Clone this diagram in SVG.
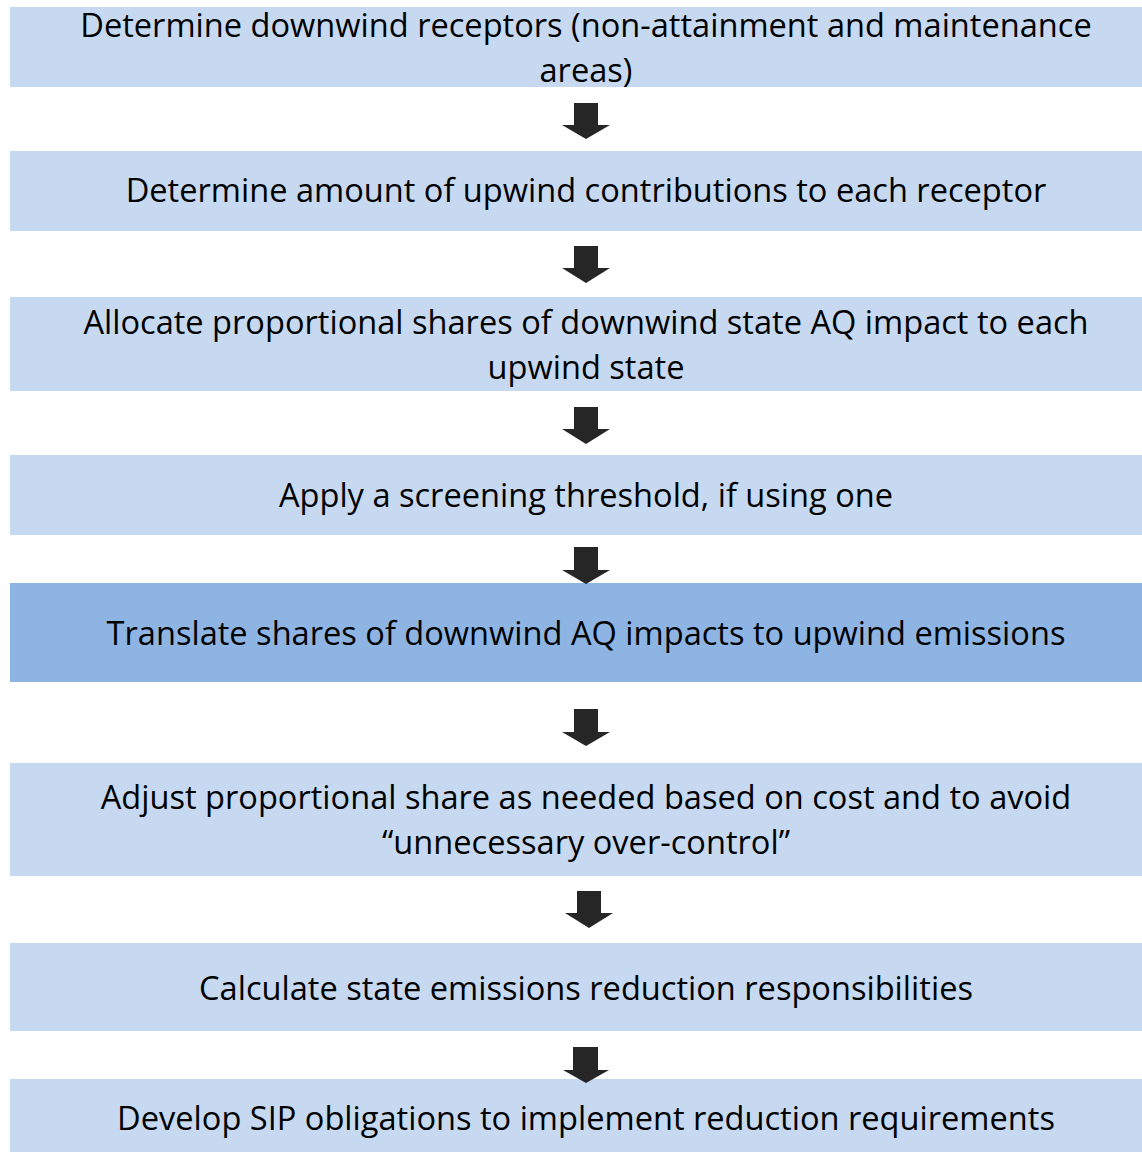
<svg xmlns="http://www.w3.org/2000/svg" width="1142" height="1152" viewBox="0 0 1142 1152">
<style>
.box{fill:#C6D9F1}
.hl{fill:#8EB4E3}
.t{font-family:"Open Sans","Noto Sans",sans-serif;font-size:32.6px;fill:#000;text-anchor:middle}
.arr{fill:#262626}
</style>
<rect width="1142" height="1152" fill="#fff"/>
<g id="n1"><rect class="box" x="10" y="7" width="1132" height="80"/>
<text class="t" x="586" y="37">Determine downwind receptors (non-attainment and maintenance</text>
<text class="t" x="586" y="82">areas)</text></g>
<g id="n2"><rect class="box" x="10" y="151" width="1132" height="80"/>
<text class="t" x="586" y="202">Determine amount of upwind contributions to each receptor</text></g>
<g id="n3"><rect class="box" x="10" y="297" width="1132" height="94"/>
<text class="t" x="586" y="334">Allocate proportional shares of downwind state AQ impact to each</text>
<text class="t" x="586" y="379">upwind state</text></g>
<g id="n4"><rect class="box" x="10" y="455" width="1132" height="80"/>
<text class="t" x="586" y="507">Apply a screening threshold, if using one</text></g>
<g id="n5"><rect class="hl" x="10" y="583" width="1132" height="99"/>
<text class="t" x="586" y="645">Translate shares of downwind AQ impacts to upwind emissions</text></g>
<g id="n6"><rect class="box" x="10" y="763" width="1132" height="113"/>
<text class="t" x="586" y="809">Adjust proportional share as needed based on cost and to avoid</text>
<text class="t" x="586" y="854">“unnecessary over-control”</text></g>
<g id="n7"><rect class="box" x="10" y="943" width="1132" height="88"/>
<text class="t" x="586" y="1000">Calculate state emissions reduction responsibilities</text></g>
<g id="n8"><rect class="box" x="10" y="1079" width="1132" height="73"/>
<text class="t" x="586" y="1130">Develop SIP obligations to implement reduction requirements</text></g>
<g id="connectors">
<path class="arr" d="M574 103H598V125H610L586 139L562 125H574Z"/>
<path class="arr" d="M574 246H598V268H610L586 283L562 268H574Z"/>
<path class="arr" d="M574 407H598V429H610L586 444L562 429H574Z"/>
<path class="arr" d="M574 547H598V570H610L586 584L562 570H574Z"/>
<path class="arr" d="M574 709H598V732H610L586 746L562 732H574Z"/>
<path class="arr" d="M577 891H601V913H613L589 928L565 913H577Z"/>
<path class="arr" d="M573 1047H598V1070H609L586 1083L563 1070H573Z"/>
</g>
</svg>
